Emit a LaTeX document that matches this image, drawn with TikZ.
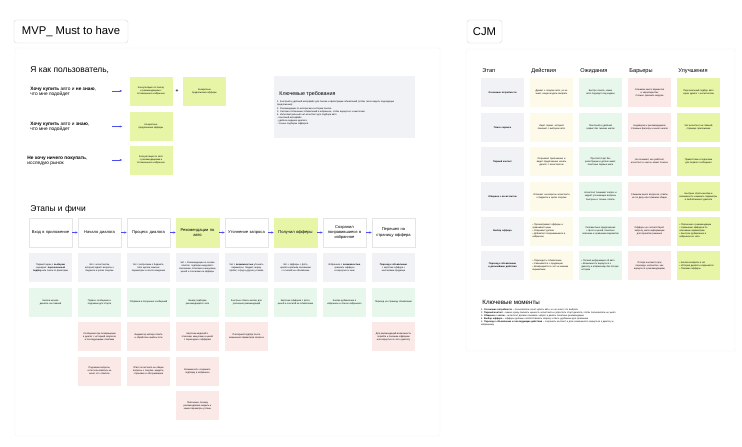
\documentclass[tikz,border=0pt]{standalone}
\usepackage{fontspec}
\setmainfont{Liberation Sans}
\usetikzlibrary{arrows.meta}
\definecolor{limefill}{HTML}{E6F6A6}
\definecolor{grayfill}{HTML}{F1F2F6}
\definecolor{mintfill}{HTML}{E7F7EC}
\definecolor{pinkfill}{HTML}{FBE9E8}
\definecolor{creamfill}{HTML}{FEFAEA}
\definecolor{arrowblue}{HTML}{4B4FF2}

\begin{document}
\begin{tikzpicture}[x=0.05cm, y=-0.05cm, board/.style={draw=black!6, fill=white, rounded corners=2pt}, tag/.style={rectangle, draw=black!18, fill=white, rounded corners=4pt, minimum height=1.15cm, font=\fontsize{16}{18}\selectfont}, stage/.style={rectangle, draw=black!10, fill=white, minimum width=2.15cm, minimum height=1.45cm, text width=2cm, inner sep=0.5pt, align=center, font=\fontsize{5.8}{7.2}\selectfont}, cell/.style={rectangle, minimum width=2.15cm, minimum height=1.45cm, text width=1.9cm, inner sep=1pt, align=center, font=\fontsize{3.3}{4.3}\selectfont}, desc/.style={cell, fill=grayfill}, feat/.style={cell, fill=mintfill}, risk/.style={cell, fill=pinkfill}, act/.style={cell, fill=creamfill}, idea/.style={cell, fill=limefill}, want/.style={anchor=west, align=left, font=\fontsize{6.8}{7.4}\selectfont}, head/.style={anchor=west, font=\fontsize{8}{9}\selectfont}, arrow/.style={-{Latex[length=1.2mm, width=1.1mm]}, draw=arrowblue, fill=arrowblue, thick}]
\useasboundingbox (0,0) rectangle (742,446);
\draw[board] (15,48) rectangle (440,436);
\draw[board] (466,49) rectangle (735,351);
\node[tag, minimum width=5.7cm] (mvp) at (71,31.5) {MVP\_ Must to have};
\node[tag, minimum width=1.75cm] (cjm) at (484.5,31.5) {CJM};

% user intents
\node[anchor=west, font=\fontsize{12}{14}\selectfont] (me) at (28,70) {Я как пользователь,};
\node[want] (u1) at (28,91.5) {\textbf{Хочу купить} авто и \textbf{не знаю},\\что мне подойдет};
\node[want] (u2) at (28,126.5) {\textbf{Хочу купить} авто и \textbf{знаю},\\что мне подойдет};
\node[want] (u3) at (25,161) {\textbf{Не хочу ничего покупать},\\исследую рынок};
\node[idea] (b1) at (151,91) {Консультация по поиску и рекомендациям с отложенным в избранное};
\node[font=\fontsize{7}{8}\selectfont\bfseries] (plus) at (177,91) {+};
\node[idea] (b2) at (204.5,91) {Конкретные предложения офферы};
\node[idea] (b3) at (151,126.5) {Конкретные предложения офферы};
\node[idea] (b4) at (151,160) {Консультация по авто с рекомендациями и отложенным в избранное};
\coordinate (a1) at (112,91); \coordinate (a2) at (112,126.5); \coordinate (a3) at (112,160);
\draw[arrow, shorten >=10pt] (a1) -- (b1); \draw[arrow, shorten >=10pt] (a2) -- (b3); \draw[arrow, shorten >=10pt] (a3) -- (b4);
\node[rectangle, fill=grayfill, minimum width=7.05cm, minimum height=3.1cm] (req) at (344.5,107) {};
\node[anchor=west, font=\fontsize{7.6}{9}\selectfont] (reqtitle) at (277,94) {Ключевые требования};
\node[anchor=north west, align=left, text width=6.6cm, inner sep=0pt, font=\fontsize{3.3}{4.4}\selectfont] (reqlist) at (277,101) {1. Быстрый и удобный интерфейс для поиска и фильтрации объявлений (чтобы легко видеть подходящие предложения)\\2. Рекомендации по интересам и истории поиска\\3. Система отложенных объявлений в избранное, чтобы вернуться к ним позже\\4. Интеллектуальный чат-ассистент для подбора авто\\- понятный интерфейс\\- удобное ведение диалога\\- точные подборки офферов};

% stages and features
\node[anchor=west, font=\fontsize{12}{14}\selectfont] (stagestitle) at (28,209) {Этапы и фичи};
\node[stage] (s1) at (50.5,232.5) {Вход в приложение};
\node[stage] (s2) at (99.5,232.5) {Начало диалога};
\node[stage] (s3) at (148.5,232.5) {Процесс диалога};
\node[stage, fill=limefill, draw=limefill] (s4) at (197.5,232.5) {Рекомендации по\\авто};
\node[stage] (s5) at (246.5,232.5) {Уточнение запроса};
\node[stage, fill=limefill, draw=limefill] (s6) at (295.5,232.5) {Получил офферы};
\node[stage] (s7) at (344.5,232.5) {Сохранил\\понравившиеся в\\избранное};
\node[stage] (s8) at (393.5,232.5) {Перешел на\\страницу оффера};
\draw[arrow] (s1) -- (s2); \draw[arrow] (s2) -- (s3); \draw[arrow] (s3) -- (s4); \draw[arrow] (s4) -- (s5); \draw[arrow] (s5) -- (s6); \draw[arrow] (s6) -- (s7); \draw[arrow] (s7) -- (s8);
\node[desc] (d1) at (50.5,267.5) {Первый экран с \textbf{выбором} сценария: \textbf{персональный подбор} или поиск по фильтрам};
\node[desc] (d2) at (99.5,267.5) {Чат с ассистентом, который задаёт вопросы о бюджете и целях покупки};
\node[desc] (d3) at (148.5,267.5) {Чат с вопросами о бюджете, типе кузова, важных параметрах и опыте вождения};
\node[desc] (d4) at (197.5,267.5) {Чат + Рекомендации на основе ответов: подборка моделей с описанием, плюсами и минусами, ценой и ссылками на офферы};
\node[desc] (d5) at (246.5,267.5) {Чат с \textbf{возможностью} уточнить параметры: бюджет, марку, пробег, город и другие условия};
\node[desc] (d6) at (295.5,267.5) {Чат + офферы с фото, ценой и кратким описанием с ссылкой на объявление};
\node[desc] (d7) at (344.5,267.5) {Избранное с \textbf{возможностью} сравнить офферы и вернуться к ним};
\node[desc] (d8) at (393.5,267.5) {\textbf{Переход к объявлению} + карточка оффера с контактами продавца};
\node[feat] (f1) at (50.5,302) {Кнопка начала диалога на главной};
\node[feat] (f2) at (99.5,302) {Первое сообщение и подсказки для старта};
\node[feat] (f3) at (148.5,302) {Отправка и получение сообщений};
\node[feat] (f4) at (197.5,302) {Вывод подборки рекомендаций в чате};
\node[feat] (f5) at (246.5,302) {Быстрые ответы-кнопки для уточнения рекомендаций};
\node[feat] (f6) at (295.5,302) {Карточки офферов с фото, ценой и ссылкой на объявление};
\node[feat] (f7) at (344.5,302) {Кнопка добавления в избранное и список избранного};
\node[feat] (f8) at (393.5,302) {Переход на страницу объявления};
\node[risk] (r2) at (99.5,336.5) {Сообщение при возвращении в диалог с историей запросов и последующими ответами};
\node[risk] (r3) at (148.5,336.5) {Индикатор набора ответа и обработка ошибок сети};
\node[risk] (r4) at (197.5,336.5) {Карточки моделей с плюсами, минусами и ценой с переходом к офферам};
\node[risk] (r5) at (246.5,336.5) {Повторный подбор после изменения параметров запроса};
\node[risk] (r8) at (393.5,336.5) {Для рекомендаций возможность перейти к похожим офферам или вернуться в чат к диалогу};
\node[risk] (q2) at (99.5,371) {Подсказки-вопросы, если пользователь не знает, что ответить};
\node[risk] (q3) at (148.5,371) {Ответ ассистента на общие вопросы о покупке, кредите, страховке и обслуживании};
\node[risk] (q4) at (197.5,371) {Возможность сохранить подборку в избранное};
\node[risk] (t4) at (197.5,405.5) {Пояснение, почему рекомендована модель и какие параметры учтены};

% customer journey map
\node[head] (hstage) at (480,71) {Этап};
\node[head] (hact) at (529,71) {Действия};
\node[head] (hwant) at (578,71) {Ожидания};
\node[head] (hrisk) at (627,71) {Барьеры};
\node[head] (hidea) at (676,71) {Улучшения};
\node[desc, font=\fontsize{3.3}{4.3}\selectfont\bfseries] (e1) at (502.5,92.5) {Осознание потребности};
\node[act] (c1) at (551.5,92.5) {Думает о покупке авто, но не знает, какую модель выбрать};
\node[feat] (w1) at (600.5,92.5) {Быстро понять, какие авто подходят под задачи};
\node[risk] (k1) at (649.5,92.5) {Слишком много вариантов и характеристик\\Сложно сравнить модели};
\node[idea] (i1) at (698.5,92.5) {Персональный подбор авто через диалог с ассистентом};
\node[desc, font=\fontsize{3.3}{4.3}\selectfont\bfseries] (e2) at (502.5,127.5) {Поиск сервиса};
\node[act] (c2) at (551.5,127.5) {Ищет сервис, который поможет с выбором авто};
\node[feat] (w2) at (600.5,127.5) {Понятный и удобный сервис без лишних шагов};
\node[risk] (k2) at (649.5,127.5) {Недоверие к рекомендациям\\Сложные фильтры и много шагов};
\node[idea] (i2) at (698.5,127.5) {Чат-ассистент на главной странице приложения};
\node[desc, font=\fontsize{3.3}{4.3}\selectfont\bfseries] (e3) at (502.5,161.5) {Первый контакт};
\node[act] (c3) at (551.5,161.5) {Открывает приложение и видит предложение начать диалог с ассистентом};
\node[feat] (w3) at (600.5,161.5) {Простой старт без регистрации и долгих анкет, понятные первые шаги};
\node[risk] (k3) at (649.5,161.5) {Не понимает, как работает ассистент и чем он может помочь};
\node[idea] (i3) at (698.5,161.5) {Приветствие и подсказки для первого сообщения};
\node[desc, font=\fontsize{3.3}{4.3}\selectfont\bfseries] (e4) at (502.5,196.5) {Общение с ассистентом};
\node[act] (c4) at (551.5,196.5) {Отвечает на вопросы ассистента о бюджете и целях покупки};
\node[feat] (w4) at (600.5,196.5) {Ассистент понимает запрос и задаёт уточняющие вопросы\\[2pt]Быстрые и точные ответы};
\node[risk] (k4) at (649.5,196.5) {Слишком много вопросов, ответы не по делу или слишком общие};
\node[idea] (i4) at (698.5,196.5) {Быстрые ответы-кнопки и возможность изменить параметры в любой момент диалога};
\node[desc, font=\fontsize{3.3}{4.3}\selectfont\bfseries] (e5) at (502.5,231) {Выбор оффера};
\node[act, align=left] (c5) at (551.5,231) {• Просматривает офферы и сравнивает цены\\• Открывает детали\\• Добавляет понравившиеся в избранное};
\node[feat] (w5) at (600.5,231) {Релевантные предложения с фото и ценой, понятное описание и сравнение вариантов};
\node[risk] (k5) at (649.5,231) {Офферы не соответствуют запросу, мало информации для принятия решения};
\node[idea, align=left] (i5) at (698.5,231) {• Пояснение к рекомендации\\• Сравнение офферов по ключевым параметрам\\• Быстрое добавление в избранное из чата};
\node[desc, font=\fontsize{3.3}{4.3}\selectfont\bfseries] (e6) at (502.5,265.5) {Переход к объявлению и дальнейшие действия};
\node[act, align=left] (c6) at (551.5,265.5) {• Переходит к объявлению\\• Связывается с продавцом\\• Возвращается в чат за новыми вариантами};
\node[feat, align=left] (w6) at (600.5,265.5) {• Полная информация об авто\\• Возможность вернуться к диалогу и избранному без потери истории};
\node[risk] (k6) at (649.5,265.5) {Потеря контекста при переходе, непонятно, как вернуться к рекомендациям};
\node[idea, align=left] (i6) at (698.5,265.5) {• Кнопка возврата в чат\\• История диалога сохраняется\\• Похожие офферы};
\node[anchor=west, font=\fontsize{8.8}{10}\selectfont] (keytitle) at (480,302) {Ключевые моменты};
\node[anchor=north west, align=left, text width=7cm, inner sep=0pt, font=\fontsize{3.3}{4.3}\selectfont] (keylist) at (481,309) {1. \textbf{Осознание потребности} – пользователь хочет купить авто, но не знает, что выбрать\\2. \textbf{Первый контакт} – важно сразу показать ценность ассистента и упростить старт диалога, чтобы пользователь не ушёл\\3. \textbf{Общение с чатом} – ассистент должен понимать запрос и давать понятные рекомендации\\4. \textbf{Выбор оффера} – офферы должны соответствовать запросу и быть удобными для сравнения\\5. \textbf{Переход к объявлению и последующие действия} – сохранить контекст и дать возможность вернуться к диалогу и избранному};
\end{tikzpicture}
\end{document}
